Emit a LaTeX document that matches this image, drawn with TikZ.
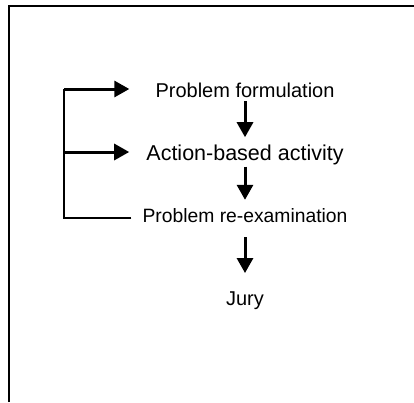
\documentclass[tikz,border=0pt]{standalone}
\usepackage{fontspec}
\setmainfont{Liberation Sans}
\usetikzlibrary{arrows.meta}

\begin{document}
\begin{tikzpicture}[x=1pt,y=-1pt,
		stage/.style={anchor=base,inner sep=0pt},
		flow/.style={line width=3pt,-{Triangle[length=15pt,width=16pt]}},
		backline/.style={line width=2.8pt}]
		\useasboundingbox (0,0) rectangle (414,402);
		\draw[line width=1.5pt] (9,402) -- (9,6) -- (414,6);
		% the four stages
		\node[stage] (pf) at (245,97) {\fontsize{20}{24}\selectfont Problem formulation};
		\node[stage] (aba) at (245,160) {\fontsize{21.5}{26}\selectfont Action-based activity};
		\node[stage] (pre) at (245,222) {\fontsize{19.3}{23}\selectfont Problem re-examination};
		\node[stage] (jury) at (245,305) {\fontsize{20}{24}\selectfont Jury};
		% downward arrows
		\draw[flow,shorten <=4pt,shorten >=7pt] (pf.south) -- (aba.north);
		\draw[flow,shorten <=2pt,shorten >=8pt] (aba.south) -- (pre.north);
		\draw[flow,shorten <=15pt,shorten >=18pt] (pre.south) -- (jury.north);
		% feedback bracket
		\coordinate (c1) at (64,89);
		\coordinate (c2) at (64,152);
		\coordinate (c3) at (64,218);
		\draw[backline] ([xshift=-11pt]c3 -| pre.west) -- (c3) -- (c1);
		\draw[flow] (c1) -- ([xshift=-26pt]c1 -| pf.west);
		\draw[flow] (c2) -- ([xshift=-17pt]c2 -| aba.west);
\end{tikzpicture}
\end{document}
